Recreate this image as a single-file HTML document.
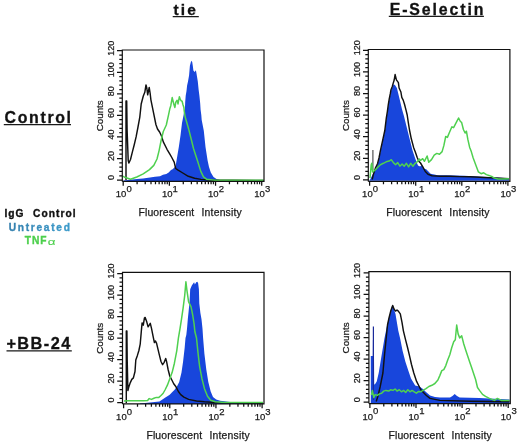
<!DOCTYPE html>
<html><head><meta charset="utf-8"><style>
html,body{margin:0;padding:0;background:#fff;}
svg{display:block;font-family:"Liberation Sans", sans-serif;will-change:transform;}
</style></head><body>
<svg width="520" height="444" viewBox="0 0 520 444">
<defs><linearGradient id="ug" x1="0" x2="1" y1="0" y2="0"><stop offset="0" stop-color="#3580ae"/><stop offset="1" stop-color="#3c9ccc"/></linearGradient></defs>
<text x="173.50" y="14.80" font-size="15.5" font-weight="bold" letter-spacing="2.100" fill="#111" stroke="#111" stroke-width="0.3">tie</text>
<text x="389.70" y="14.70" font-size="15.9" font-weight="bold" letter-spacing="1.889" fill="#111" stroke="#111" stroke-width="0.3">E-Selectin</text>
<text x="4.55" y="123.00" font-size="15.9" font-weight="bold" letter-spacing="1.667" fill="#111" stroke="#111" stroke-width="0.3">Control</text>
<text x="6.40" y="348.90" font-size="16.3" font-weight="bold" letter-spacing="1.470" fill="#111" stroke="#111" stroke-width="0.3">+BB-24</text>
<text x="4.40" y="217.10" font-size="10.2" font-weight="bold" letter-spacing="1.000" fill="#111" stroke="#111" stroke-width="0.35">IgG</text>
<text x="33.05" y="217.10" font-size="10.2" font-weight="bold" letter-spacing="1.067" fill="#111" stroke="#111" stroke-width="0.35">Control</text>
<text x="8.80" y="230.60" font-size="10.2" font-weight="bold" letter-spacing="1.694" fill="url(#ug)" stroke="url(#ug)" stroke-width="0.35">Untreated</text>
<text x="24.80" y="244.20" font-size="10.2" font-weight="bold" letter-spacing="0.900" fill="#4ccf4c" stroke="#4ccf4c" stroke-width="0.35">TNF</text>
<text x="47.8" y="244.8" font-size="8.6" fill="#4ccf4c" stroke="#4ccf4c" stroke-width="0.1" transform="translate(47.8 0) scale(1.55 1) translate(-47.8 0)">α</text>
<path d="M172.7 16.6H198.8 M388.8 16.3H483.9 M3.8 124.7H71 M6.5 350.8H71.8" stroke="#1a1a1a" stroke-width="1.3"/>
<polygon points="123.5,181.0 123.5,180.5 130.0,179.8 137.0,179.0 143.0,178.4 150.0,177.6 155.0,176.8 160.0,176.2 163.0,174.8 166.3,174.0 168.7,172.5 171.0,170.1 172.6,169.3 174.2,167.8 175.7,165.4 177.3,156.0 178.9,146.5 180.5,135.5 182.0,122.9 183.6,115.0 184.4,110.0 184.9,109.8 185.2,102.0 185.7,95.7 186.5,91.0 187.1,85.4 188.0,81.5 189.1,75.2 189.9,65.7 191.2,60.7 192.2,62.0 192.8,65.7 193.4,70.5 194.6,72.0 195.9,70.2 196.5,73.6 197.8,81.5 198.6,89.4 199.4,95.7 200.2,103.5 200.6,109.8 201.3,115.0 201.7,120.0 203.8,130.7 205.5,147.0 207.6,160.5 209.0,167.0 210.8,172.5 213.5,177.0 216.5,179.0 220.0,180.0 230.0,180.6 263.5,180.8 263.5,181.0" fill="#1846dc"/>
<polyline points="126.0,180.0 126.0,101.0 126.7,101.0 127.1,130.0 128.2,160.5 128.9,163.0 130.5,159.5 132.4,151.8 134.3,144.5 136.1,136.9 138.0,127.0 139.8,117.1 141.2,104.0 142.3,99.8 143.3,96.0 144.8,92.3 146.0,84.9 146.8,88.0 147.7,94.8 148.5,91.0 149.2,87.4 150.1,93.0 150.9,99.8 153.4,112.2 155.9,124.5 157.5,129.0 159.6,132.0 161.5,136.0 163.3,141.9 167.0,149.3 170.0,154.3 171.8,157.5 174.2,162.2 175.7,168.5 178.1,170.1 182.0,172.5 188.3,176.3 194.6,178.3 201.0,179.4 210.0,180.0 263.5,180.5" fill="none" stroke="#111" stroke-width="1.45" stroke-linejoin="round"/>
<polyline points="123.2,176.0 124.1,177.0 130.5,179.2 136.8,177.0 143.2,173.9 149.5,169.6 153.8,165.4 157.0,159.0 159.1,150.6 161.2,140.0 163.3,131.5 166.3,125.0 168.6,114.7 169.9,108.4 170.8,105.7 172.2,97.6 173.1,101.2 174.0,104.8 174.9,107.5 175.8,102.1 177.1,100.3 178.0,103.9 179.4,96.7 180.3,99.4 181.2,100.8 182.1,101.2 183.0,104.8 183.9,107.5 184.3,111.6 185.2,117.0 187.0,123.3 188.8,129.6 190.6,136.8 192.4,144.0 193.5,148.5 197.4,160.5 200.8,171.4 203.5,176.8 206.5,179.2 215.0,180.2 263.5,180.2" fill="none" stroke="#4fd04f" stroke-width="1.5" stroke-linejoin="round"/>
<path d="M122.30 181.40V50.00H264.00V181.40H122.30" fill="none" stroke="#111" stroke-width="1.2"/>
<path d="M122.30 180.10h-5.3 M122.30 175.79h-3.0 M122.30 171.47h-3.0 M122.30 167.16h-3.0 M122.30 162.85h-3.0 M122.30 158.53h-5.3 M122.30 154.22h-3.0 M122.30 149.91h-3.0 M122.30 145.59h-3.0 M122.30 141.28h-3.0 M122.30 136.97h-5.3 M122.30 132.65h-3.0 M122.30 128.34h-3.0 M122.30 124.03h-3.0 M122.30 119.71h-3.0 M122.30 115.40h-5.3 M122.30 111.09h-3.0 M122.30 106.77h-3.0 M122.30 102.46h-3.0 M122.30 98.15h-3.0 M122.30 93.83h-5.3 M122.30 89.52h-3.0 M122.30 85.21h-3.0 M122.30 80.89h-3.0 M122.30 76.58h-3.0 M122.30 72.27h-5.3 M122.30 67.95h-3.0 M122.30 63.64h-3.0 M122.30 59.33h-3.0 M122.30 55.01h-3.0 M122.30 50.70h-5.3 M123.20 181.40v4.3 M137.10 181.40v2.8 M145.23 181.40v2.8 M151.00 181.40v2.8 M155.47 181.40v2.8 M159.13 181.40v2.8 M162.22 181.40v2.8 M164.90 181.40v2.8 M167.26 181.40v2.8 M169.37 181.40v4.3 M183.27 181.40v2.8 M191.40 181.40v2.8 M197.17 181.40v2.8 M201.64 181.40v2.8 M205.30 181.40v2.8 M208.39 181.40v2.8 M211.07 181.40v2.8 M213.43 181.40v2.8 M215.54 181.40v4.3 M229.44 181.40v2.8 M237.57 181.40v2.8 M243.34 181.40v2.8 M247.81 181.40v2.8 M251.47 181.40v2.8 M254.56 181.40v2.8 M257.24 181.40v2.8 M259.60 181.40v2.8 M261.71 181.40v4.3" stroke="#111" stroke-width="1.25" fill="none"/>
<text transform="translate(113.70,177.60) rotate(-90)" text-anchor="middle" font-size="9" fill="#1a1a1a" stroke="#1a1a1a" stroke-width="0.25">0</text>
<text transform="translate(113.70,156.03) rotate(-90)" text-anchor="middle" font-size="9" fill="#1a1a1a" stroke="#1a1a1a" stroke-width="0.25">20</text>
<text transform="translate(113.70,134.47) rotate(-90)" text-anchor="middle" font-size="9" fill="#1a1a1a" stroke="#1a1a1a" stroke-width="0.25">40</text>
<text transform="translate(113.70,112.90) rotate(-90)" text-anchor="middle" font-size="9" fill="#1a1a1a" stroke="#1a1a1a" stroke-width="0.25">60</text>
<text transform="translate(113.70,91.33) rotate(-90)" text-anchor="middle" font-size="9" fill="#1a1a1a" stroke="#1a1a1a" stroke-width="0.25">80</text>
<text transform="translate(113.70,69.77) rotate(-90)" text-anchor="middle" font-size="9" fill="#1a1a1a" stroke="#1a1a1a" stroke-width="0.25">100</text>
<text transform="translate(113.70,48.20) rotate(-90)" text-anchor="middle" font-size="9" fill="#1a1a1a" stroke="#1a1a1a" stroke-width="0.25">120</text>
<text transform="translate(102.50,115.80) rotate(-90)" text-anchor="middle" font-size="9.8" fill="#1a1a1a" stroke="#1a1a1a" stroke-width="0.25">Counts</text>
<text x="126.30" y="197.40" text-anchor="end" font-size="9.5" fill="#1a1a1a" stroke="#1a1a1a" stroke-width="0.25">10</text>
<text x="126.40" y="192.00" font-size="9.5" fill="#1a1a1a" stroke="#1a1a1a" stroke-width="0.25">0</text>
<text x="172.47" y="197.40" text-anchor="end" font-size="9.5" fill="#1a1a1a" stroke="#1a1a1a" stroke-width="0.25">10</text>
<text x="172.57" y="192.00" font-size="9.5" fill="#1a1a1a" stroke="#1a1a1a" stroke-width="0.25">1</text>
<text x="218.64" y="197.40" text-anchor="end" font-size="9.5" fill="#1a1a1a" stroke="#1a1a1a" stroke-width="0.25">10</text>
<text x="218.74" y="192.00" font-size="9.5" fill="#1a1a1a" stroke="#1a1a1a" stroke-width="0.25">2</text>
<text x="264.81" y="197.40" text-anchor="end" font-size="9.5" fill="#1a1a1a" stroke="#1a1a1a" stroke-width="0.25">10</text>
<text x="264.91" y="192.00" font-size="9.5" fill="#1a1a1a" stroke="#1a1a1a" stroke-width="0.25">3</text>
<text x="138.50" y="216.00" font-size="10.4" letter-spacing="0.14" fill="#1a1a1a" stroke="#1a1a1a" stroke-width="0.25">Fluorescent</text>
<text x="201.55" y="216.00" font-size="10.4" letter-spacing="0.19" fill="#1a1a1a" stroke="#1a1a1a" stroke-width="0.25">Intensity</text>
<polygon points="369.5,180.7 369.5,180.0 370.3,179.2 371.0,177.7 373.2,173.4 375.4,169.1 377.5,164.7 379.0,159.0 380.4,151.7 382.6,141.6 384.8,131.5 386.3,119.1 387.4,112.3 388.3,105.5 389.2,100.1 390.3,94.7 391.0,90.7 392.4,87.3 393.7,84.2 395.1,85.3 396.9,88.1 399.7,99.4 402.0,109.2 404.0,116.2 406.8,127.5 409.6,138.7 412.4,150.0 415.2,158.4 418.0,165.5 420.1,166.5 421.8,164.9 423.5,168.4 426.2,169.3 428.0,171.1 430.6,173.7 434.2,174.5 437.7,175.2 446.5,175.3 455.4,175.4 464.2,175.8 473.1,176.2 481.9,176.8 490.8,177.3 499.6,177.8 509.0,178.2 509.0,180.7" fill="#1846dc"/>
<path d="M372.9 150V170" stroke="#444" stroke-width="1.1"/>
<polyline points="372.2,179.5 373.2,175.0 375.4,168.1 377.5,163.7 379.0,158.0 380.4,150.7 382.6,140.6 384.8,130.5 386.3,118.1 387.4,111.3 388.3,104.5 389.2,99.1 390.3,93.7 391.0,89.7 392.4,86.3 393.0,83.9 394.2,80.0 395.1,74.5 396.4,79.9 398.4,82.6 399.1,88.0 400.9,92.0 401.8,97.4 403.2,100.1 404.5,104.2 405.9,109.6 407.2,115.0 408.2,121.8 409.5,130.0 411.3,138.8 413.6,147.4 415.5,152.6 417.2,157.5 419.0,161.5 420.5,163.0 422.7,166.6 425.3,171.5 428.0,174.3 432.0,175.8 440.0,176.3 450.0,176.2 460.0,176.6 470.0,176.8 480.0,177.3 490.0,177.8 500.0,178.3 509.0,178.6" fill="none" stroke="#111" stroke-width="1.45" stroke-linejoin="round"/>
<polyline points="370.0,178.0 371.2,165.0 371.8,163.3 372.6,172.0 374.7,170.5 377.5,167.6 380.4,164.7 383.3,163.3 386.2,161.8 389.1,161.1 391.3,159.7 393.4,162.6 395.6,164.7 397.7,162.6 399.9,166.2 402.1,164.0 404.2,166.2 406.4,163.3 408.6,166.9 410.7,163.3 412.9,166.2 415.1,163.3 417.2,161.8 419.4,159.0 420.5,160.5 422.7,158.7 424.4,161.3 427.1,156.0 428.8,162.2 431.5,159.6 434.2,155.1 436.8,153.4 439.5,154.2 442.1,151.6 443.9,145.4 445.7,136.5 447.4,137.4 449.2,133.0 451.9,126.8 453.6,127.7 455.4,124.2 457.2,120.6 458.6,118.0 460.4,121.5 461.6,122.4 463.4,129.5 465.1,133.0 466.4,131.2 467.8,139.2 469.6,147.2 471.3,151.6 473.1,157.8 475.8,164.9 478.4,171.9 481.1,173.7 483.7,172.8 486.4,174.6 489.0,175.5 491.7,176.4 494.3,178.1 497.9,179.0 503.2,179.0 509.0,178.8" fill="none" stroke="#4fd04f" stroke-width="1.5" stroke-linejoin="round"/>
<path d="M368.30 181.40V49.50H509.90V181.40H368.30" fill="none" stroke="#111" stroke-width="1.2"/>
<path d="M368.30 179.90h-5.3 M368.30 175.58h-3.0 M368.30 171.26h-3.0 M368.30 166.94h-3.0 M368.30 162.62h-3.0 M368.30 158.30h-5.3 M368.30 153.98h-3.0 M368.30 149.66h-3.0 M368.30 145.34h-3.0 M368.30 141.02h-3.0 M368.30 136.70h-5.3 M368.30 132.38h-3.0 M368.30 128.06h-3.0 M368.30 123.74h-3.0 M368.30 119.42h-3.0 M368.30 115.10h-5.3 M368.30 110.78h-3.0 M368.30 106.46h-3.0 M368.30 102.14h-3.0 M368.30 97.82h-3.0 M368.30 93.50h-5.3 M368.30 89.18h-3.0 M368.30 84.86h-3.0 M368.30 80.54h-3.0 M368.30 76.22h-3.0 M368.30 71.90h-5.3 M368.30 67.58h-3.0 M368.30 63.26h-3.0 M368.30 58.94h-3.0 M368.30 54.62h-3.0 M368.30 50.30h-5.3 M369.60 181.40v4.3 M383.48 181.40v2.8 M391.60 181.40v2.8 M397.35 181.40v2.8 M401.82 181.40v2.8 M405.47 181.40v2.8 M408.56 181.40v2.8 M411.23 181.40v2.8 M413.59 181.40v2.8 M415.70 181.40v4.3 M429.58 181.40v2.8 M437.70 181.40v2.8 M443.45 181.40v2.8 M447.92 181.40v2.8 M451.57 181.40v2.8 M454.66 181.40v2.8 M457.33 181.40v2.8 M459.69 181.40v2.8 M461.80 181.40v4.3 M475.68 181.40v2.8 M483.80 181.40v2.8 M489.55 181.40v2.8 M494.02 181.40v2.8 M497.67 181.40v2.8 M500.76 181.40v2.8 M503.43 181.40v2.8 M505.79 181.40v2.8 M507.90 181.40v4.3" stroke="#111" stroke-width="1.25" fill="none"/>
<text transform="translate(359.70,177.40) rotate(-90)" text-anchor="middle" font-size="9" fill="#1a1a1a" stroke="#1a1a1a" stroke-width="0.25">0</text>
<text transform="translate(359.70,155.80) rotate(-90)" text-anchor="middle" font-size="9" fill="#1a1a1a" stroke="#1a1a1a" stroke-width="0.25">20</text>
<text transform="translate(359.70,134.20) rotate(-90)" text-anchor="middle" font-size="9" fill="#1a1a1a" stroke="#1a1a1a" stroke-width="0.25">40</text>
<text transform="translate(359.70,112.60) rotate(-90)" text-anchor="middle" font-size="9" fill="#1a1a1a" stroke="#1a1a1a" stroke-width="0.25">60</text>
<text transform="translate(359.70,91.00) rotate(-90)" text-anchor="middle" font-size="9" fill="#1a1a1a" stroke="#1a1a1a" stroke-width="0.25">80</text>
<text transform="translate(359.70,69.40) rotate(-90)" text-anchor="middle" font-size="9" fill="#1a1a1a" stroke="#1a1a1a" stroke-width="0.25">100</text>
<text transform="translate(359.70,47.80) rotate(-90)" text-anchor="middle" font-size="9" fill="#1a1a1a" stroke="#1a1a1a" stroke-width="0.25">120</text>
<text transform="translate(348.50,115.60) rotate(-90)" text-anchor="middle" font-size="9.8" fill="#1a1a1a" stroke="#1a1a1a" stroke-width="0.25">Counts</text>
<text x="372.70" y="197.40" text-anchor="end" font-size="9.5" fill="#1a1a1a" stroke="#1a1a1a" stroke-width="0.25">10</text>
<text x="372.80" y="192.00" font-size="9.5" fill="#1a1a1a" stroke="#1a1a1a" stroke-width="0.25">0</text>
<text x="418.80" y="197.40" text-anchor="end" font-size="9.5" fill="#1a1a1a" stroke="#1a1a1a" stroke-width="0.25">10</text>
<text x="418.90" y="192.00" font-size="9.5" fill="#1a1a1a" stroke="#1a1a1a" stroke-width="0.25">1</text>
<text x="464.90" y="197.40" text-anchor="end" font-size="9.5" fill="#1a1a1a" stroke="#1a1a1a" stroke-width="0.25">10</text>
<text x="465.00" y="192.00" font-size="9.5" fill="#1a1a1a" stroke="#1a1a1a" stroke-width="0.25">2</text>
<text x="511.00" y="197.40" text-anchor="end" font-size="9.5" fill="#1a1a1a" stroke="#1a1a1a" stroke-width="0.25">10</text>
<text x="511.10" y="192.00" font-size="9.5" fill="#1a1a1a" stroke="#1a1a1a" stroke-width="0.25">3</text>
<text x="386.30" y="216.10" font-size="10.4" letter-spacing="0.14" fill="#1a1a1a" stroke="#1a1a1a" stroke-width="0.25">Fluorescent</text>
<text x="449.35" y="216.10" font-size="10.4" letter-spacing="0.19" fill="#1a1a1a" stroke="#1a1a1a" stroke-width="0.25">Intensity</text>
<polygon points="140.0,404.0 140.0,403.5 150.0,402.5 159.4,401.5 165.0,397.8 167.4,396.3 169.7,394.7 172.1,392.3 174.4,390.0 176.8,386.8 179.2,382.1 181.5,372.6 183.1,361.6 184.7,347.4 185.5,338.0 186.3,335.0 187.0,328.7 187.8,319.2 188.6,311.4 189.4,303.5 189.9,295.6 190.2,289.3 191.8,285.4 193.0,283.8 194.1,282.2 194.9,284.6 196.2,282.2 197.3,281.8 198.1,283.0 198.9,289.3 199.3,303.5 200.4,313.0 201.5,319.2 202.5,328.7 203.1,338.0 204.4,353.7 206.3,369.5 208.3,382.1 210.7,391.5 213.0,397.1 216.2,399.4 220.1,400.7 230.0,402.0 263.0,402.5 263.0,404.0" fill="#1846dc"/>
<polyline points="126.3,403.0 126.3,331.0 126.9,331.0 127.2,360.0 127.9,390.5 128.7,387.3 130.3,382.6 131.8,379.4 133.4,377.9 135.0,371.5 135.8,360.0 137.4,355.4 138.9,350.5 140.2,344.2 141.3,331.5 142.1,322.9 143.3,325.2 144.4,318.1 145.2,317.4 146.8,322.1 148.1,326.8 149.2,325.2 150.3,323.3 151.5,328.4 153.1,336.3 154.4,342.6 155.5,341.0 156.6,343.4 157.9,348.9 159.4,355.2 161.0,361.5 162.6,364.7 164.2,362.3 165.7,358.4 166.6,361.6 168.1,369.5 169.7,375.8 172.1,380.5 173.7,383.7 176.0,386.8 178.4,391.5 180.7,394.7 183.9,397.1 188.6,399.4 196.5,401.0 204.4,401.8 215.0,402.5 263.0,403.0" fill="none" stroke="#111" stroke-width="1.45" stroke-linejoin="round"/>
<polyline points="124.0,401.0 127.9,400.7 135.8,400.7 143.7,400.7 147.6,400.5 149.2,398.6 151.5,399.4 153.9,398.3 156.3,397.4 158.6,397.6 161.0,395.5 163.0,393.5 165.0,390.0 167.4,385.2 169.7,379.0 172.1,372.6 174.4,363.2 176.8,350.6 178.4,338.1 180.0,328.7 181.5,319.2 183.1,308.2 184.7,295.6 185.9,281.8 187.0,290.9 188.6,301.9 191.0,306.6 192.6,314.5 194.1,324.0 194.9,331.8 196.5,338.0 198.1,353.7 199.6,366.3 202.0,378.9 204.4,388.4 207.5,396.3 210.7,400.2 215.4,401.8 225.0,402.5 263.0,402.5" fill="none" stroke="#4fd04f" stroke-width="1.5" stroke-linejoin="round"/>
<path d="M122.50 403.90V272.30H264.00V403.90H122.50" fill="none" stroke="#111" stroke-width="1.2"/>
<path d="M122.50 402.60h-5.3 M122.50 398.30h-3.0 M122.50 393.99h-3.0 M122.50 389.69h-3.0 M122.50 385.39h-3.0 M122.50 381.08h-5.3 M122.50 376.78h-3.0 M122.50 372.48h-3.0 M122.50 368.17h-3.0 M122.50 363.87h-3.0 M122.50 359.57h-5.3 M122.50 355.26h-3.0 M122.50 350.96h-3.0 M122.50 346.66h-3.0 M122.50 342.35h-3.0 M122.50 338.05h-5.3 M122.50 333.75h-3.0 M122.50 329.44h-3.0 M122.50 325.14h-3.0 M122.50 320.84h-3.0 M122.50 316.53h-5.3 M122.50 312.23h-3.0 M122.50 307.93h-3.0 M122.50 303.62h-3.0 M122.50 299.32h-3.0 M122.50 295.02h-5.3 M122.50 290.71h-3.0 M122.50 286.41h-3.0 M122.50 282.11h-3.0 M122.50 277.80h-3.0 M122.50 273.50h-5.3 M123.60 403.90v4.3 M137.50 403.90v2.8 M145.63 403.90v2.8 M151.40 403.90v2.8 M155.87 403.90v2.8 M159.53 403.90v2.8 M162.62 403.90v2.8 M165.30 403.90v2.8 M167.66 403.90v2.8 M169.77 403.90v4.3 M183.67 403.90v2.8 M191.80 403.90v2.8 M197.57 403.90v2.8 M202.04 403.90v2.8 M205.70 403.90v2.8 M208.79 403.90v2.8 M211.47 403.90v2.8 M213.83 403.90v2.8 M215.94 403.90v4.3 M229.84 403.90v2.8 M237.97 403.90v2.8 M243.74 403.90v2.8 M248.21 403.90v2.8 M251.87 403.90v2.8 M254.96 403.90v2.8 M257.64 403.90v2.8 M260.00 403.90v2.8 M262.11 403.90v4.3" stroke="#111" stroke-width="1.25" fill="none"/>
<text transform="translate(113.90,400.10) rotate(-90)" text-anchor="middle" font-size="9" fill="#1a1a1a" stroke="#1a1a1a" stroke-width="0.25">0</text>
<text transform="translate(113.90,378.58) rotate(-90)" text-anchor="middle" font-size="9" fill="#1a1a1a" stroke="#1a1a1a" stroke-width="0.25">20</text>
<text transform="translate(113.90,357.07) rotate(-90)" text-anchor="middle" font-size="9" fill="#1a1a1a" stroke="#1a1a1a" stroke-width="0.25">40</text>
<text transform="translate(113.90,335.55) rotate(-90)" text-anchor="middle" font-size="9" fill="#1a1a1a" stroke="#1a1a1a" stroke-width="0.25">60</text>
<text transform="translate(113.90,314.03) rotate(-90)" text-anchor="middle" font-size="9" fill="#1a1a1a" stroke="#1a1a1a" stroke-width="0.25">80</text>
<text transform="translate(113.90,292.52) rotate(-90)" text-anchor="middle" font-size="9" fill="#1a1a1a" stroke="#1a1a1a" stroke-width="0.25">100</text>
<text transform="translate(113.90,271.00) rotate(-90)" text-anchor="middle" font-size="9" fill="#1a1a1a" stroke="#1a1a1a" stroke-width="0.25">120</text>
<text transform="translate(102.70,338.30) rotate(-90)" text-anchor="middle" font-size="9.8" fill="#1a1a1a" stroke="#1a1a1a" stroke-width="0.25">Counts</text>
<text x="126.70" y="419.90" text-anchor="end" font-size="9.5" fill="#1a1a1a" stroke="#1a1a1a" stroke-width="0.25">10</text>
<text x="126.80" y="414.50" font-size="9.5" fill="#1a1a1a" stroke="#1a1a1a" stroke-width="0.25">0</text>
<text x="172.87" y="419.90" text-anchor="end" font-size="9.5" fill="#1a1a1a" stroke="#1a1a1a" stroke-width="0.25">10</text>
<text x="172.97" y="414.50" font-size="9.5" fill="#1a1a1a" stroke="#1a1a1a" stroke-width="0.25">1</text>
<text x="219.04" y="419.90" text-anchor="end" font-size="9.5" fill="#1a1a1a" stroke="#1a1a1a" stroke-width="0.25">10</text>
<text x="219.14" y="414.50" font-size="9.5" fill="#1a1a1a" stroke="#1a1a1a" stroke-width="0.25">2</text>
<text x="265.21" y="419.90" text-anchor="end" font-size="9.5" fill="#1a1a1a" stroke="#1a1a1a" stroke-width="0.25">10</text>
<text x="265.31" y="414.50" font-size="9.5" fill="#1a1a1a" stroke="#1a1a1a" stroke-width="0.25">3</text>
<text x="146.40" y="439.00" font-size="10.4" letter-spacing="0.14" fill="#1a1a1a" stroke="#1a1a1a" stroke-width="0.25">Fluorescent</text>
<text x="209.45" y="439.00" font-size="10.4" letter-spacing="0.19" fill="#1a1a1a" stroke="#1a1a1a" stroke-width="0.25">Intensity</text>
<polygon points="370.8,403.5 370.8,403.0 370.8,356.0 372.8,356.0 372.9,340.0 373.9,340.0 374.2,384.5 375.0,384.2 376.7,381.4 378.7,373.0 381.5,356.1 384.3,339.2 387.1,325.2 388.5,319.5 390.7,311.1 391.6,307.0 392.7,305.5 393.5,308.0 394.1,309.7 395.5,313.9 396.4,319.5 398.3,330.8 400.3,339.2 402.5,350.5 405.4,361.7 408.2,370.2 411.0,378.6 415.2,385.5 419.4,386.5 423.0,389.0 426.0,392.0 430.0,395.5 435.0,397.0 440.0,397.5 450.0,397.5 452.5,396.0 454.7,394.0 457.0,396.0 459.7,397.5 479.5,398.0 499.4,399.0 509.5,399.5 509.5,403.5" fill="#1846dc"/>
<path d="M373.4 326.6V400" stroke="#1a2a9a" stroke-width="1.2"/>
<polyline points="376.2,401.5 378.0,396.0 380.1,387.0 382.9,373.0 384.5,355.0 386.0,340.0 387.5,325.0 389.0,318.0 390.7,311.1 392.7,305.5 394.0,309.0 395.5,311.1 397.0,310.0 398.3,311.1 400.3,313.9 402.0,322.4 403.4,330.8 405.4,339.2 407.6,347.7 409.6,356.1 411.5,364.5 413.8,373.0 416.6,381.4 420.8,389.8 426.4,395.5 430.0,398.4 439.8,400.4 470.0,401.2 509.5,401.8" fill="none" stroke="#111" stroke-width="1.45" stroke-linejoin="round"/>
<polyline points="371.5,395.0 372.4,390.4 373.8,397.5 375.2,394.6 377.3,395.4 379.5,393.9 381.6,393.2 383.7,391.1 385.9,390.4 388.7,391.1 390.8,389.7 393.0,390.4 395.1,389.0 397.2,391.1 399.3,389.7 401.5,391.8 403.6,390.4 405.7,392.5 407.8,389.7 410.0,391.8 412.1,390.4 414.2,391.8 416.4,393.2 418.5,391.4 420.6,391.8 423.0,390.4 426.0,388.7 428.9,386.5 431.9,385.3 434.9,383.5 437.9,380.0 439.8,375.6 441.8,370.6 443.8,369.6 445.8,365.6 447.8,359.7 449.8,354.7 451.7,347.8 453.7,341.8 455.3,339.8 456.7,325.0 458.1,333.9 459.7,337.9 461.7,335.9 463.7,343.8 465.6,349.8 467.6,355.7 469.6,361.7 471.6,367.6 473.6,373.6 475.6,379.5 477.5,387.5 479.5,390.4 482.5,394.4 485.5,396.4 489.4,398.4 494.4,400.4 497.4,398.4 501.3,400.4 509.5,400.6" fill="none" stroke="#4fd04f" stroke-width="1.5" stroke-linejoin="round"/>
<path d="M368.90 403.60V271.60H510.30V403.60H368.90" fill="none" stroke="#111" stroke-width="1.2"/>
<path d="M368.90 402.20h-5.3 M368.90 397.89h-3.0 M368.90 393.58h-3.0 M368.90 389.27h-3.0 M368.90 384.96h-3.0 M368.90 380.65h-5.3 M368.90 376.34h-3.0 M368.90 372.03h-3.0 M368.90 367.72h-3.0 M368.90 363.41h-3.0 M368.90 359.10h-5.3 M368.90 354.79h-3.0 M368.90 350.48h-3.0 M368.90 346.17h-3.0 M368.90 341.86h-3.0 M368.90 337.55h-5.3 M368.90 333.24h-3.0 M368.90 328.93h-3.0 M368.90 324.62h-3.0 M368.90 320.31h-3.0 M368.90 316.00h-5.3 M368.90 311.69h-3.0 M368.90 307.38h-3.0 M368.90 303.07h-3.0 M368.90 298.76h-3.0 M368.90 294.45h-5.3 M368.90 290.14h-3.0 M368.90 285.83h-3.0 M368.90 281.52h-3.0 M368.90 277.21h-3.0 M368.90 272.90h-5.3 M369.90 403.60v4.3 M383.78 403.60v2.8 M391.90 403.60v2.8 M397.65 403.60v2.8 M402.12 403.60v2.8 M405.77 403.60v2.8 M408.86 403.60v2.8 M411.53 403.60v2.8 M413.89 403.60v2.8 M416.00 403.60v4.3 M429.88 403.60v2.8 M438.00 403.60v2.8 M443.75 403.60v2.8 M448.22 403.60v2.8 M451.87 403.60v2.8 M454.96 403.60v2.8 M457.63 403.60v2.8 M459.99 403.60v2.8 M462.10 403.60v4.3 M475.98 403.60v2.8 M484.10 403.60v2.8 M489.85 403.60v2.8 M494.32 403.60v2.8 M497.97 403.60v2.8 M501.06 403.60v2.8 M503.73 403.60v2.8 M506.09 403.60v2.8 M508.20 403.60v4.3" stroke="#111" stroke-width="1.25" fill="none"/>
<text transform="translate(360.30,399.70) rotate(-90)" text-anchor="middle" font-size="9" fill="#1a1a1a" stroke="#1a1a1a" stroke-width="0.25">0</text>
<text transform="translate(360.30,378.15) rotate(-90)" text-anchor="middle" font-size="9" fill="#1a1a1a" stroke="#1a1a1a" stroke-width="0.25">20</text>
<text transform="translate(360.30,356.60) rotate(-90)" text-anchor="middle" font-size="9" fill="#1a1a1a" stroke="#1a1a1a" stroke-width="0.25">40</text>
<text transform="translate(360.30,335.05) rotate(-90)" text-anchor="middle" font-size="9" fill="#1a1a1a" stroke="#1a1a1a" stroke-width="0.25">60</text>
<text transform="translate(360.30,313.50) rotate(-90)" text-anchor="middle" font-size="9" fill="#1a1a1a" stroke="#1a1a1a" stroke-width="0.25">80</text>
<text transform="translate(360.30,291.95) rotate(-90)" text-anchor="middle" font-size="9" fill="#1a1a1a" stroke="#1a1a1a" stroke-width="0.25">100</text>
<text transform="translate(360.30,270.40) rotate(-90)" text-anchor="middle" font-size="9" fill="#1a1a1a" stroke="#1a1a1a" stroke-width="0.25">120</text>
<text transform="translate(349.10,337.90) rotate(-90)" text-anchor="middle" font-size="9.8" fill="#1a1a1a" stroke="#1a1a1a" stroke-width="0.25">Counts</text>
<text x="373.00" y="419.60" text-anchor="end" font-size="9.5" fill="#1a1a1a" stroke="#1a1a1a" stroke-width="0.25">10</text>
<text x="373.10" y="414.20" font-size="9.5" fill="#1a1a1a" stroke="#1a1a1a" stroke-width="0.25">0</text>
<text x="419.10" y="419.60" text-anchor="end" font-size="9.5" fill="#1a1a1a" stroke="#1a1a1a" stroke-width="0.25">10</text>
<text x="419.20" y="414.20" font-size="9.5" fill="#1a1a1a" stroke="#1a1a1a" stroke-width="0.25">1</text>
<text x="465.20" y="419.60" text-anchor="end" font-size="9.5" fill="#1a1a1a" stroke="#1a1a1a" stroke-width="0.25">10</text>
<text x="465.30" y="414.20" font-size="9.5" fill="#1a1a1a" stroke="#1a1a1a" stroke-width="0.25">2</text>
<text x="511.30" y="419.60" text-anchor="end" font-size="9.5" fill="#1a1a1a" stroke="#1a1a1a" stroke-width="0.25">10</text>
<text x="511.40" y="414.20" font-size="9.5" fill="#1a1a1a" stroke="#1a1a1a" stroke-width="0.25">3</text>
<text x="388.50" y="438.50" font-size="10.4" letter-spacing="0.14" fill="#1a1a1a" stroke="#1a1a1a" stroke-width="0.25">Fluorescent</text>
<text x="451.55" y="438.50" font-size="10.4" letter-spacing="0.19" fill="#1a1a1a" stroke="#1a1a1a" stroke-width="0.25">Intensity</text>
</svg>
</body></html>
